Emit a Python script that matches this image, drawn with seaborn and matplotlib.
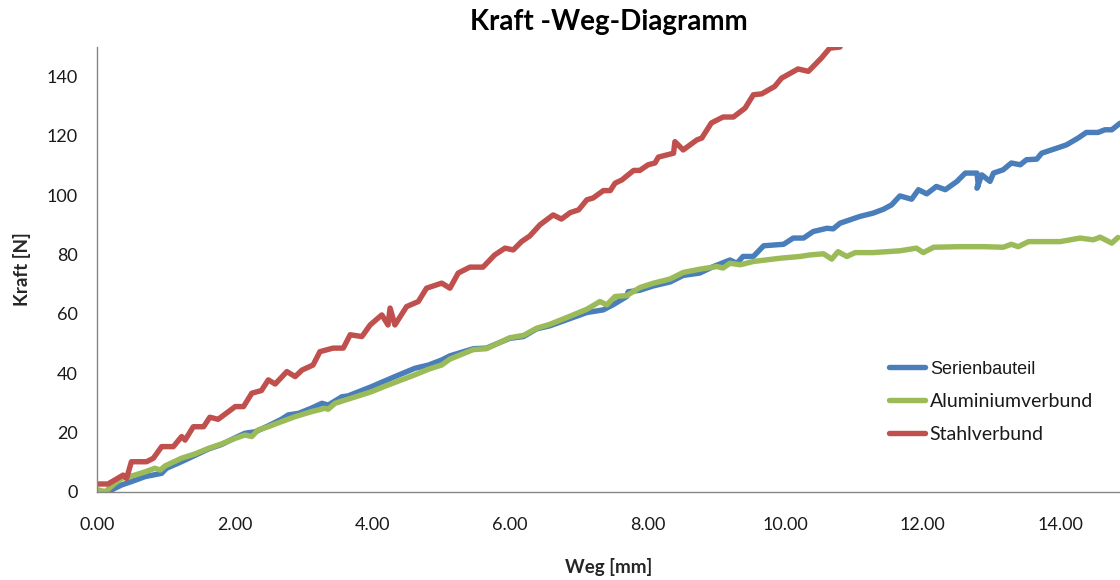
import matplotlib
matplotlib.use("Agg")
import matplotlib.pyplot as plt
import seaborn as sns
import pandas as pd
from matplotlib.ticker import FormatStrFormatter
from matplotlib.lines import Line2D

# ---- data ----
title = "Kraft -Weg-Diagramm"
x_label = "Weg [mm]"
y_label = "Kraft [N]"
series_names = ["Serienbauteil", "Aluminiumverbund", "Stahlverbund"]
x_ticks = [0, 2, 4, 6, 8, 10, 12, 14]
y_ticks = [0, 20, 40, 60, 80, 100, 120, 140]

serien_weg = [0.05, 0.16, 0.36, 0.50, 0.70, 0.94, 1.01, 1.18, 1.42, 1.62, 1.81, 2.01,
              2.15, 2.30, 2.49, 2.68, 2.78, 2.93, 3.12, 3.27, 3.36, 3.56, 3.65, 3.99,
              4.19, 4.33, 4.62, 4.82, 5.01, 5.13, 5.47, 5.66, 6.00, 6.20, 6.39, 6.58,
              6.88, 7.12, 7.36, 7.50, 7.70, 7.72, 7.89, 8.09, 8.33, 8.52, 8.76, 8.96,
              9.20, 9.30, 9.39, 9.54, 9.69, 9.98, 10.12, 10.27, 10.41, 10.61, 10.70,
              10.80, 11.09, 11.28, 11.43, 11.55, 11.67, 11.84, 11.94, 12.06, 12.20,
              12.33, 12.50, 12.62, 12.79, 12.81, 12.79, 12.86, 12.98, 13.03, 13.17,
              13.29, 13.42, 13.51, 13.66, 13.73, 13.95, 14.09, 14.26, 14.38, 14.55,
              14.65, 14.75, 14.87]
serien_kraft = [-0.5, 0.1, 2.4, 3.5, 5.2, 6.3, 8.0, 9.7, 12.3, 14.5, 16.0, 18.3,
                19.8, 20.3, 22.3, 24.5, 26.0, 26.5, 28.3, 29.9, 29.3, 32.1, 32.4, 35.5,
                37.5, 38.9, 41.7, 42.8, 44.5, 45.9, 48.3, 48.5, 51.8, 52.4, 55.0, 56.0,
                58.5, 60.5, 61.4, 63.1, 65.9, 67.5, 68.0, 69.5, 70.8, 73.0, 73.8, 76.0,
                78.2, 77.1, 79.4, 79.4, 83.0, 83.5, 85.6, 85.6, 87.8, 88.9, 88.7,
                90.6, 92.9, 94.0, 95.3, 96.8, 99.8, 98.7, 101.9, 100.5, 103.0,
                101.9, 104.7, 107.5, 107.5, 103.5, 102.4, 106.9, 104.7, 107.5, 108.6,
                110.9, 110.3, 112.0, 112.2, 114.2, 115.9, 117.0, 119.3, 121.2, 121.2,
                122.1, 122.1, 124.3]

alu_weg = [0.02, 0.12, 0.26, 0.36, 0.55, 0.70, 0.84, 0.92, 0.99, 1.23, 1.42, 1.62,
           1.81, 2.01, 2.15, 2.25, 2.34, 2.49, 2.68, 2.88, 3.12, 3.31, 3.36, 3.46,
           3.65, 3.99, 4.19, 4.62, 4.82, 5.01, 5.13, 5.47, 5.66, 6.00, 6.20, 6.39,
           6.58, 6.88, 7.12, 7.31, 7.41, 7.53, 7.70, 7.89, 8.09, 8.33, 8.52, 8.76,
           9.01, 9.10, 9.20, 9.35, 9.54, 9.93, 10.22, 10.36, 10.56, 10.68, 10.77,
           10.90, 11.02, 11.28, 11.67, 11.91, 12.01, 12.16, 12.54, 12.88, 13.17,
           13.29, 13.39, 13.54, 13.85, 14.00, 14.29, 14.48, 14.58, 14.75, 14.84]
alu_kraft = [0.7, 0.1, 2.9, 4.6, 5.7, 6.8, 8.0, 7.4, 8.8, 11.4, 12.8, 14.7,
             16.2, 18.1, 19.2, 18.7, 20.9, 22.0, 23.7, 25.4, 27.1, 28.2, 27.9, 29.9,
             31.3, 33.8, 35.7, 39.5, 41.4, 42.8, 44.8, 48.0, 48.3, 52.0, 52.8, 55.2,
             56.5, 59.3, 61.6, 64.2, 63.1, 65.9, 66.2, 68.9, 70.4, 71.8, 74.0, 75.1,
             76.0, 75.5, 77.1, 76.6, 77.7, 78.8, 79.4, 79.9, 80.3, 78.5, 81.0,
             79.4, 80.7, 80.7, 81.3, 82.2, 80.7, 82.5, 82.7, 82.7, 82.5,
             83.5, 82.7, 84.4, 84.4, 84.4, 85.6, 85.0, 85.9, 83.9, 85.8]

stahl_weg = [0.00, 0.16, 0.38, 0.43, 0.50, 0.72, 0.82, 0.94, 1.11, 1.23, 1.28, 1.40,
             1.55, 1.64, 1.76, 2.01, 2.13, 2.25, 2.39, 2.49, 2.59, 2.76, 2.88, 2.98,
             3.14, 3.24, 3.43, 3.58, 3.68, 3.85, 3.97, 4.14, 4.23, 4.26, 4.33, 4.50,
             4.67, 4.79, 5.01, 5.13, 5.25, 5.42, 5.61, 5.78, 5.93, 6.05, 6.17, 6.29,
             6.44, 6.63, 6.75, 6.88, 7.00, 7.12, 7.21, 7.36, 7.46, 7.53, 7.63, 7.80,
             7.89, 8.01, 8.11, 8.16, 8.38, 8.40, 8.52, 8.72, 8.79, 8.93, 9.10, 9.25,
             9.42, 9.54, 9.66, 9.85, 9.95, 10.19, 10.34, 10.53, 10.65, 10.80]
stahl_kraft = [2.7, 2.7, 5.7, 4.6, 10.2, 10.2, 11.4, 15.3, 15.3, 18.7, 17.5, 22.0,
               22.0, 25.2, 24.5, 28.8, 28.8, 33.3, 34.2, 37.8, 36.4, 40.6, 38.9, 41.1,
               42.8, 47.3, 48.5, 48.5, 53.0, 52.4, 56.3, 59.7, 56.3, 62.0, 56.3, 62.5,
               64.2, 68.7, 70.4, 68.7, 73.8, 75.8, 75.8, 79.9, 82.2, 81.6, 84.4, 86.3,
               90.1, 93.4, 92.0, 94.2, 95.1, 98.5, 99.1, 101.6, 101.6, 104.1, 105.2, 108.4,
               108.4, 110.3, 110.9, 112.9, 114.2, 118.1, 115.3, 118.7, 119.3, 124.4, 126.4, 126.4,
               129.4, 133.9, 134.2, 136.7, 139.5, 142.6, 141.8, 146.3, 149.6, 150.0]

colors = ["#4A7EBB", "#9BBB59", "#C0504D"]

frames = []
for name, xs, ys in zip(series_names,
                        [serien_weg, alu_weg, stahl_weg],
                        [serien_kraft, alu_kraft, stahl_kraft]):
    frames.append(pd.DataFrame({"Weg": xs, "Kraft": ys, "Serie": name}))
df = pd.concat(frames, ignore_index=True)

sns.set_theme(style="white")
plt.rcParams["font.family"] = ["Lato", "DejaVu Sans"]

fig = plt.figure(figsize=(11.2, 5.8), dpi=100)
ax = fig.add_axes([97 / 1120, (580 - 492) / 580, 1 - 97 / 1120, (492 - 47) / 580])

sns.lineplot(data=df, x="Weg", y="Kraft", hue="Serie", hue_order=series_names,
             palette=colors, sort=False, estimator=None, units="Serie",
             linewidth=3.9, ax=ax, legend=False)

ax.set_xlim(0, (1120 - 97) / 68.8)
ax.set_ylim(0, 150)
ax.set_xticks(x_ticks)
ax.set_yticks(y_ticks)
ax.xaxis.set_major_formatter(FormatStrFormatter("%.2f"))

for s in ["top", "right"]:
    ax.spines[s].set_visible(False)
for s in ["left", "bottom"]:
    ax.spines[s].set_color("#868686")
    ax.spines[s].set_linewidth(1.0)

ax.tick_params(axis="both", which="major", direction="out", length=5, width=1,
               color="#868686", labelsize=13, labelcolor="#1a1a1a")
ax.tick_params(axis="x", pad=13)
ax.tick_params(axis="y", pad=9)

ax.set_title(title, fontsize=20, fontweight="bold", pad=12, color="#000000")
ax.set_xlabel(x_label, fontsize=13.5, fontweight="bold", labelpad=18)
ax.set_ylabel(y_label, fontsize=13.5, fontweight="bold", labelpad=11)

handles = [Line2D([], [], color=c, linewidth=3.9) for c in colors]
leg = fig.legend(handles, series_names, loc="upper left",
                 bbox_to_anchor=(889 / 1120, (580 - 360) / 580),
                 frameon=False, fontsize=14, handlelength=1.85,
                 handletextpad=0.25, labelspacing=0.8, borderpad=0,
                 borderaxespad=0)
for i, t in enumerate(leg.get_texts()):
    t.set_color("#1a1a1a")
    if i == 0:
        t.set_fontfamily(["Liberation Sans", "DejaVu Sans"])
        t.set_fontsize(13)

fig.savefig("out.png", dpi=100)
